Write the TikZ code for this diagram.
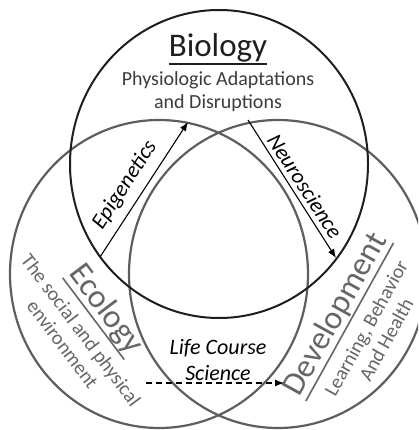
\documentclass[tikz,border=0pt]{standalone}
\usepackage{fontspec}
\setmainfont{Carlito}
\usetikzlibrary{arrows.meta}
\definecolor{biocol}{HTML}{1E1E1E}
\definecolor{ringcol}{HTML}{5E5E5E}
\definecolor{gtext}{HTML}{666666}
\definecolor{dtext}{HTML}{3C3C3C}
\newcommand\myul[1]{\leavevmode\setbox0\hbox{#1}\rlap{\vrule height -6pt depth 7.6pt width \wd0}\box0}
\begin{document}
\begin{tikzpicture}[x=1pt,y=-1pt,
  ring/.style={draw=ringcol, line width=2.2pt},
  biocircle/.style={draw=biocol, line width=2pt},
  titletext/.style={font=\fontsize{33}{38}\selectfont, inner sep=0pt},
  subtext/.style={font=\fontsize{20}{23}\selectfont, inner sep=0pt, align=center},
  labtext/.style={font=\fontsize{22}{26}\selectfont\itshape, inner sep=0pt, align=center},
  arr/.style={line width=1.1pt, draw=black, -{Latex[length=9pt,width=7pt]}},
  dasharr/.style={line width=1.1pt, draw=black, dash pattern=on 6pt off 4pt, -{Latex[length=9pt,width=7pt]}},
]
\useasboundingbox (0,0) rectangle (418,430);
\clip (0,0) rectangle (418,430);
\fill[white] (0,0) rectangle (418,430);
% circles
\path[ring] (159,274) ellipse [x radius=149, y radius=154];
\path[ring] (278,274) ellipse [x radius=149, y radius=154];
\path[biocircle] (219,164) ellipse [x radius=149, y radius=154];
% Biology
\node[titletext, text=biocol, anchor=base] (bio) at (218,57) {\myul{Biology}};
\node[subtext, text=dtext] (phys) at (218,92) {Physiologic Adaptations\\and Disruptions};
% Ecology
\node[titletext, text=gtext, rotate=-53] (eco) at (105,310) {\myul{Ecology}};
\node[subtext, text=gtext, rotate=-53] (ecosub) at (72,337) {The social and physical\\environment};
% Development
\node[titletext, text=gtext, rotate=61] (dev) at (337,315) {\myul{Development}};
\node[subtext, text=gtext, rotate=61] (devsub) at (376,334) {Learning, Behavior\\And Health};
% labels
\node[labtext, rotate=57] (epi) at (125,185) {Epigenetics};
\node[labtext, rotate=-57] (neuro) at (305,186) {Neuroscience};
\node[labtext] (life) at (218,360) {Life Course\\Science};
% arrows
\coordinate (epiS) at (100,257);
\coordinate (epiE) at (188,122);
\coordinate (neuS) at (248,120);
\coordinate (neuE) at (336,258);
\coordinate (lcS) at (146,383);
\coordinate (lcE) at (284,383);
\draw[arr] (epiS) -- (epiE);
\draw[arr] (neuS) -- (neuE);
\draw[dasharr] (lcS) -- (lcE);
\end{tikzpicture}
\end{document}
